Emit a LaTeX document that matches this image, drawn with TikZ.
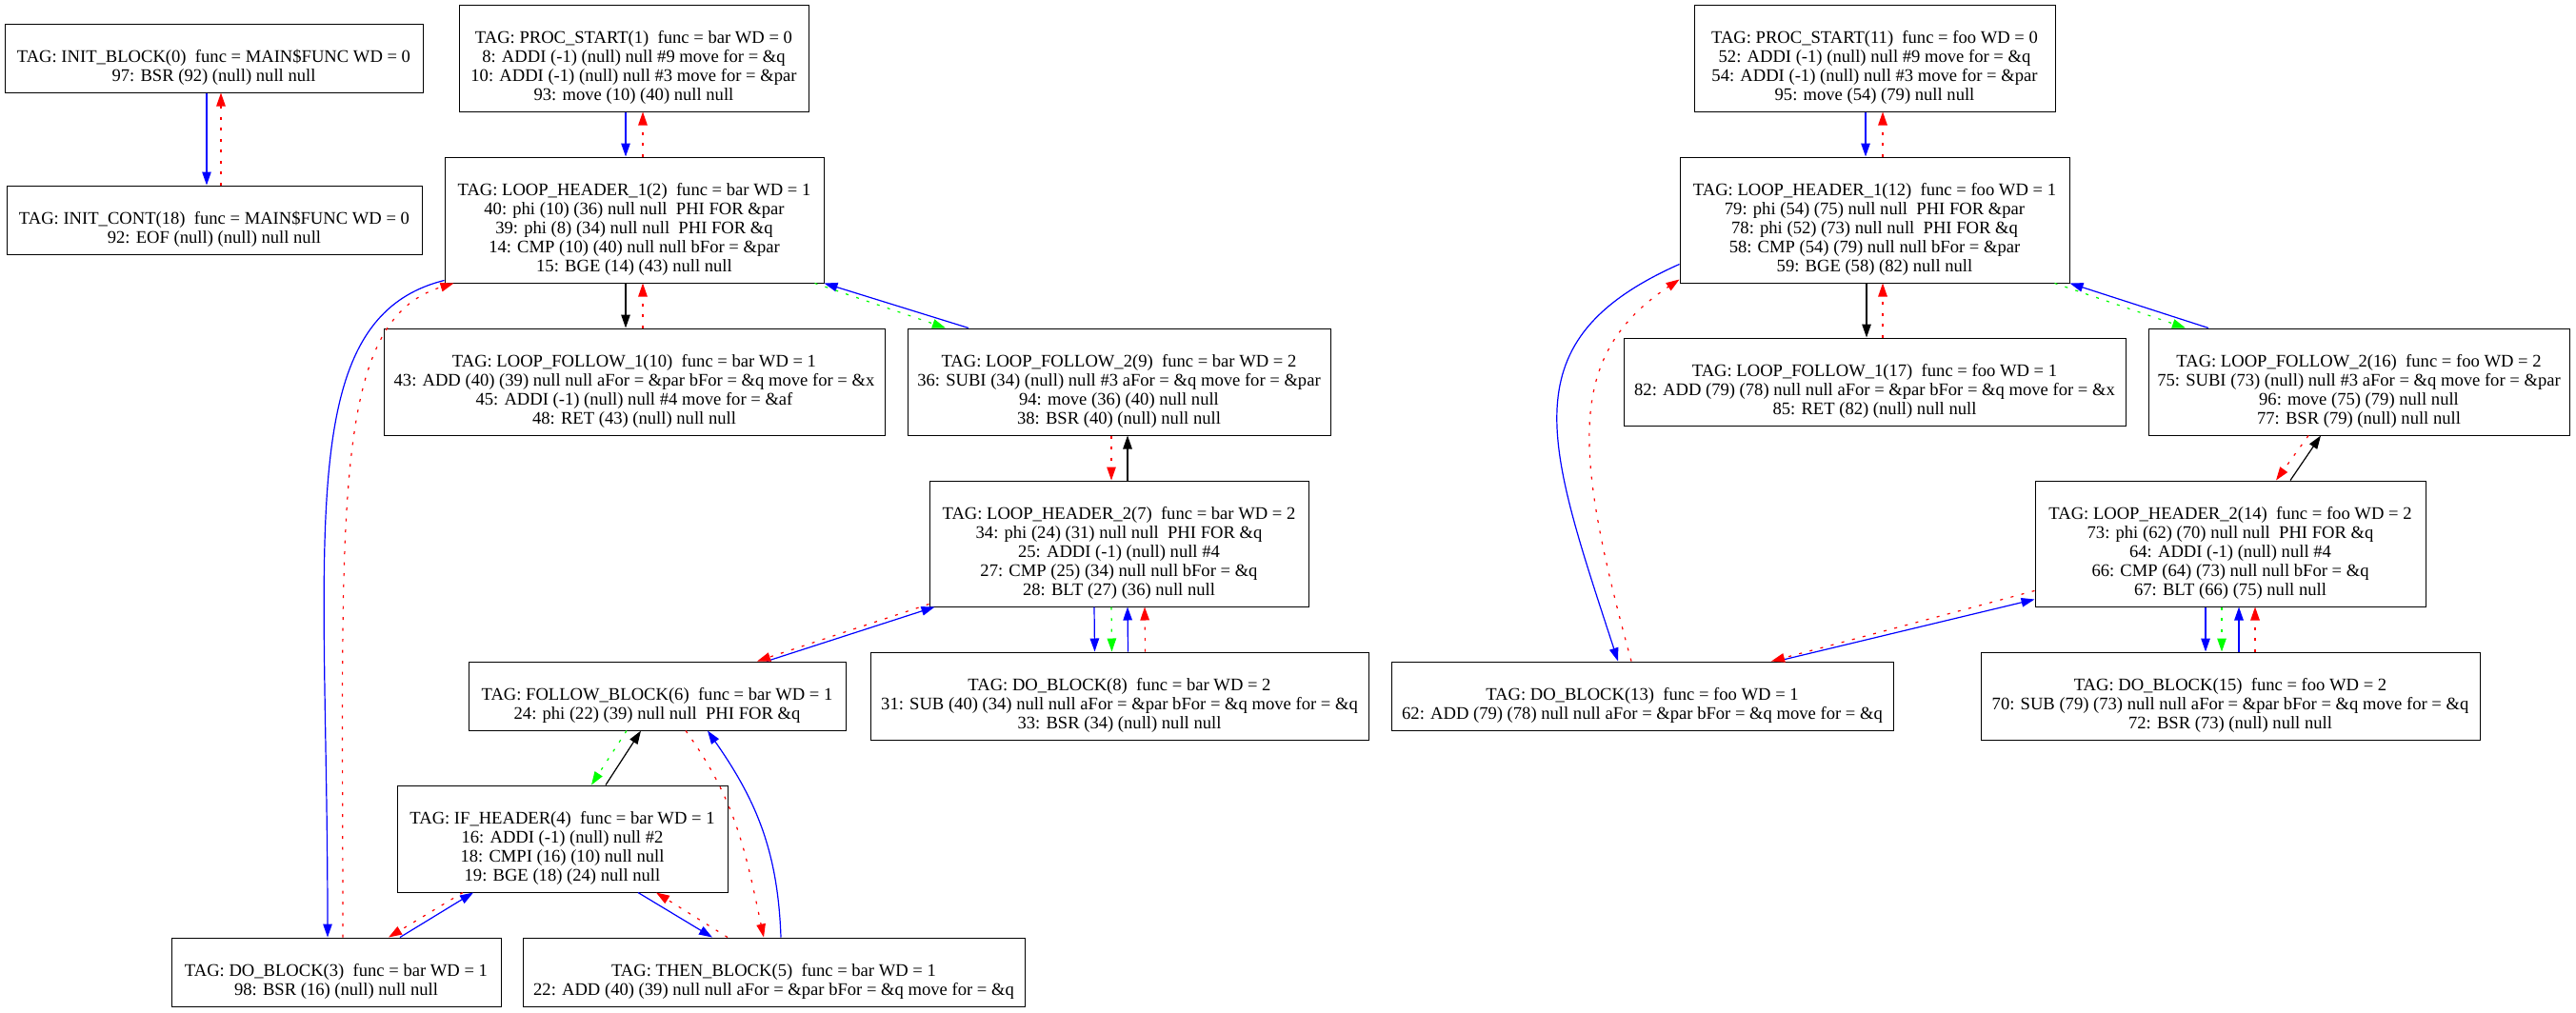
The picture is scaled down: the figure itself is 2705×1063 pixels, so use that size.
\documentclass[tikz,border=0pt]{standalone}
\usepackage{fontspec}
\setmainfont{Liberation Serif}
\usetikzlibrary{arrows.meta}
\definecolor{FlowBlue}{RGB}{0,0,255}
\definecolor{FlowRed}{RGB}{255,0,0}
\definecolor{FlowGreen}{RGB}{0,255,0}

\begin{document}
\begin{tikzpicture}[x=1pt, y=1pt,
    blk/.style={draw=black, line width=1pt, align=center, inner xsep=2pt, inner ysep=6pt,
        font=\fontsize{18.6}{20}\selectfont},
    lnk/.style={line width=1.2pt, -{Triangle[length=14pt,width=9.5pt]}},
    bline/.style={lnk, FlowBlue},
    kline/.style={lnk, black},
    rdot/.style={lnk, FlowRed, dash pattern=on 3pt off 8.5pt},
    gdot/.style={lnk, FlowGreen, dash pattern=on 3pt off 8.5pt}]
    % whole page, 1pt per pixel
    \useasboundingbox (0,0) rectangle (2705,-1063);

    % MAIN$FUNC blocks
    \node[blk, minimum width=439pt] (init0) at (224.5,-61) {\strut\\TAG: INIT\_BLOCK(0)\ \ func = MAIN\$FUNC WD = 0\\97: BSR (92) (null) null null\strut};
    \node[blk, minimum width=436pt] (cont18) at (225,-231) {\strut\\TAG: INIT\_CONT(18)\ \ func = MAIN\$FUNC WD = 0\\92: EOF (null) (null) null null\strut};

    % bar blocks
    \node[blk, minimum width=367pt] (start1) at (665.5,-61) {\strut\\TAG: PROC\_START(1)\ \ func = bar WD = 0\\8: ADDI (-1) (null) null \#9 move for = \&q\\10: ADDI (-1) (null) null \#3 move for = \&par\\93: move (10) (40) null null\strut};
    \node[blk, minimum width=398pt] (head1) at (666,-231) {\strut\\TAG: LOOP\_HEADER\_1(2)\ \ func = bar WD = 1\\40: phi (10) (36) null null\ \ PHI FOR \&par\\39: phi (8) (34) null null\ \ PHI FOR \&q\\14: CMP (10) (40) null null bFor = \&par\\15: BGE (14) (43) null null\strut};
    \node[blk, minimum width=526pt] (fol10) at (666,-401) {\strut\\TAG: LOOP\_FOLLOW\_1(10)\ \ func = bar WD = 1\\43: ADD (40) (39) null null aFor = \&par bFor = \&q move for = \&x\\45: ADDI (-1) (null) null \#4 move for = \&af\\48: RET (43) (null) null null\strut};
    \node[blk, minimum width=444pt] (fol9) at (1175,-401) {\strut\\TAG: LOOP\_FOLLOW\_2(9)\ \ func = bar WD = 2\\36: SUBI (34) (null) null \#3 aFor = \&q move for = \&par\\94: move (36) (40) null null\\38: BSR (40) (null) null null\strut};
    \node[blk, minimum width=398pt] (head7) at (1175,-571) {\strut\\TAG: LOOP\_HEADER\_2(7)\ \ func = bar WD = 2\\34: phi (24) (31) null null\ \ PHI FOR \&q\\25: ADDI (-1) (null) null \#4\\27: CMP (25) (34) null null bFor = \&q\\28: BLT (27) (36) null null\strut};
    \node[blk, minimum width=523pt] (do8) at (1175.5,-731) {\strut\\TAG: DO\_BLOCK(8)\ \ func = bar WD = 2\\31: SUB (40) (34) null null aFor = \&par bFor = \&q move for = \&q\\33: BSR (34) (null) null null\strut};
    \node[blk, minimum width=396pt] (fb6) at (690,-731) {\strut\\TAG: FOLLOW\_BLOCK(6)\ \ func = bar WD = 1\\24: phi (22) (39) null null\ \ PHI FOR \&q\strut};
    \node[blk, minimum width=347pt] (ifh4) at (590.5,-881) {\strut\\TAG: IF\_HEADER(4)\ \ func = bar WD = 1\\16: ADDI (-1) (null) null \#2\\18: CMPI (16) (10) null null\\19: BGE (18) (24) null null\strut};
    \node[blk, minimum width=527pt] (then5) at (812.5,-1021) {\strut\\TAG: THEN\_BLOCK(5)\ \ func = bar WD = 1\\22: ADD (40) (39) null null aFor = \&par bFor = \&q move for = \&q\strut};
    \node[blk, minimum width=346pt] (do3) at (353,-1021) {\strut\\TAG: DO\_BLOCK(3)\ \ func = bar WD = 1\\98: BSR (16) (null) null null\strut};

    % foo blocks
    \node[blk, minimum width=379pt] (start11) at (1968.5,-61) {\strut\\TAG: PROC\_START(11)\ \ func = foo WD = 0\\52: ADDI (-1) (null) null \#9 move for = \&q\\54: ADDI (-1) (null) null \#3 move for = \&par\\95: move (54) (79) null null\strut};
    \node[blk, minimum width=409pt] (head12) at (1968.5,-231) {\strut\\TAG: LOOP\_HEADER\_1(12)\ \ func = foo WD = 1\\79: phi (54) (75) null null\ \ PHI FOR \&par\\78: phi (52) (73) null null\ \ PHI FOR \&q\\58: CMP (54) (79) null null bFor = \&par\\59: BGE (58) (82) null null\strut};
    \node[blk, minimum width=527pt] (fol17) at (1968.5,-401) {\strut\\TAG: LOOP\_FOLLOW\_1(17)\ \ func = foo WD = 1\\82: ADD (79) (78) null null aFor = \&par bFor = \&q move for = \&x\\85: RET (82) (null) null null\strut};
    \node[blk, minimum width=442pt] (fol16) at (2477,-401) {\strut\\TAG: LOOP\_FOLLOW\_2(16)\ \ func = foo WD = 2\\75: SUBI (73) (null) null \#3 aFor = \&q move for = \&par\\96: move (75) (79) null null\\77: BSR (79) (null) null null\strut};
    \node[blk, minimum width=410pt] (head14) at (2342,-571) {\strut\\TAG: LOOP\_HEADER\_2(14)\ \ func = foo WD = 2\\73: phi (62) (70) null null\ \ PHI FOR \&q\\64: ADDI (-1) (null) null \#4\\66: CMP (64) (73) null null bFor = \&q\\67: BLT (66) (75) null null\strut};
    \node[blk, minimum width=524pt] (do15) at (2342,-731) {\strut\\TAG: DO\_BLOCK(15)\ \ func = foo WD = 2\\70: SUB (79) (73) null null aFor = \&par bFor = \&q move for = \&q\\72: BSR (73) (null) null null\strut};
    \node[blk, minimum width=527pt] (do13) at (1724.5,-731) {\strut\\TAG: DO\_BLOCK(13)\ \ func = foo WD = 1\\62: ADD (79) (78) null null aFor = \&par bFor = \&q move for = \&q\strut};

    % MAIN$FUNC edges
    \draw[bline] ([xshift=-7.5pt]init0.south) -- ([xshift=-8pt]cont18.north);
    \draw[rdot] ([xshift=7pt]cont18.north) -- ([xshift=7.5pt]init0.south);

    % bar edges
    \draw[bline] ([xshift=-8.5pt]start1.south) -- ([xshift=-9pt]head1.north);
    \draw[rdot] ([xshift=9pt]head1.north) -- ([xshift=9.5pt]start1.south);
    \draw[kline] ([xshift=-9pt]head1.south) -- ([xshift=-9pt]fol10.north);
    \draw[rdot] ([xshift=9pt]fol10.north) -- ([xshift=9pt]head1.south);
    \draw[bline] ([xshift=-158pt]fol9.north) -- (head1.south east);
    \draw[gdot] ([xshift=-10pt]head1.south east) -- ([xshift=-182pt]fol9.north);
    \draw[kline] ([xshift=9pt]head7.north) -- ([xshift=9pt]fol9.south);
    \draw[rdot] ([xshift=-8pt]fol9.south) -- ([xshift=-8pt]head7.north);
    \draw[bline] ([xshift=-26pt]head7.south) -- ([xshift=-26pt]do8.north);
    \draw[gdot] ([xshift=-8pt]head7.south) -- ([xshift=-8pt]do8.north);
    \draw[bline] ([xshift=9pt]do8.north) -- ([xshift=9pt]head7.south);
    \draw[rdot] ([xshift=27pt]do8.north) -- ([xshift=27pt]head7.south);
    \draw[bline] ([xshift=115pt]fb6.north) -- ([xshift=6pt]head7.south west);
    \draw[rdot] ([yshift=3pt]head7.south west) -- ([xshift=105pt]fb6.north);
    \draw[gdot] ([xshift=-32pt]fb6.south) -- ([xshift=30.5pt]ifh4.north);
    \draw[kline] ([xshift=45.5pt]ifh4.north) -- ([xshift=-17pt]fb6.south);
    \draw[rdot] ([xshift=30pt]fb6.south) to[out=-54,in=102] ([xshift=-10.5pt]then5.north);
    \draw[bline] ([xshift=7.5pt]then5.north) to[out=92,in=-55] ([xshift=53pt]fb6.south);
    \draw[bline] ([xshift=79.5pt]ifh4.south) -- ([xshift=-64.5pt]then5.north);
    \draw[rdot] ([xshift=-48.5pt]then5.north) -- ([xshift=98.5pt]ifh4.south);
    \draw[bline] ([xshift=67pt]do3.north) -- ([xshift=-93.5pt]ifh4.south);
    \draw[rdot] ([xshift=-104.5pt]ifh4.south) -- ([xshift=55pt]do3.north);
    \draw[bline] ([yshift=3pt]head1.south west) .. controls +(-160,-40) and +(0,420) .. ([xshift=-9pt]do3.north);
    \draw[rdot] ([xshift=7pt]do3.north) .. controls +(0,450) and +(-130,-40) .. ([xshift=10pt]head1.south west);

    % foo edges
    \draw[bline] ([xshift=-9.5pt]start11.south) -- ([xshift=-9.5pt]head12.north);
    \draw[rdot] ([xshift=8.5pt]head12.north) -- ([xshift=8.5pt]start11.south);
    \draw[kline] ([xshift=-8.5pt]head12.south) -- ([xshift=-8.5pt]fol17.north);
    \draw[rdot] ([xshift=8.5pt]fol17.north) -- ([xshift=8.5pt]head12.south);
    \draw[bline] ([xshift=-158pt]fol16.north) -- (head12.south east);
    \draw[gdot] ([xshift=-16pt]head12.south east) -- ([xshift=-182pt]fol16.north);
    \draw[kline] ([xshift=63pt]head14.north) -- ([xshift=-40pt]fol16.south);
    \draw[rdot] ([xshift=-53pt]fol16.south) -- ([xshift=48pt]head14.north);
    \draw[bline] ([xshift=-26pt]head14.south) -- ([xshift=-26pt]do15.north);
    \draw[gdot] ([xshift=-9pt]head14.south) -- ([xshift=-9pt]do15.north);
    \draw[bline] ([xshift=9pt]do15.north) -- ([xshift=9pt]head14.south);
    \draw[rdot] ([xshift=26pt]do15.north) -- ([xshift=26pt]head14.south);
    \draw[bline] ([xshift=141.5pt]do13.north) -- ([yshift=8pt]head14.south west);
    \draw[rdot] ([yshift=17pt]head14.south west) -- ([xshift=135.5pt]do13.north);
    \draw[bline] ([yshift=20pt]head12.south west) .. controls +(-180,-80) and +(-75,230) .. ([xshift=-25.5pt]do13.north);
    \draw[rdot] ([xshift=-11.5pt]do13.north) .. controls +(-60,220) and +(-120,-80) .. ([yshift=4pt]head12.south west);
\end{tikzpicture}
\end{document}
